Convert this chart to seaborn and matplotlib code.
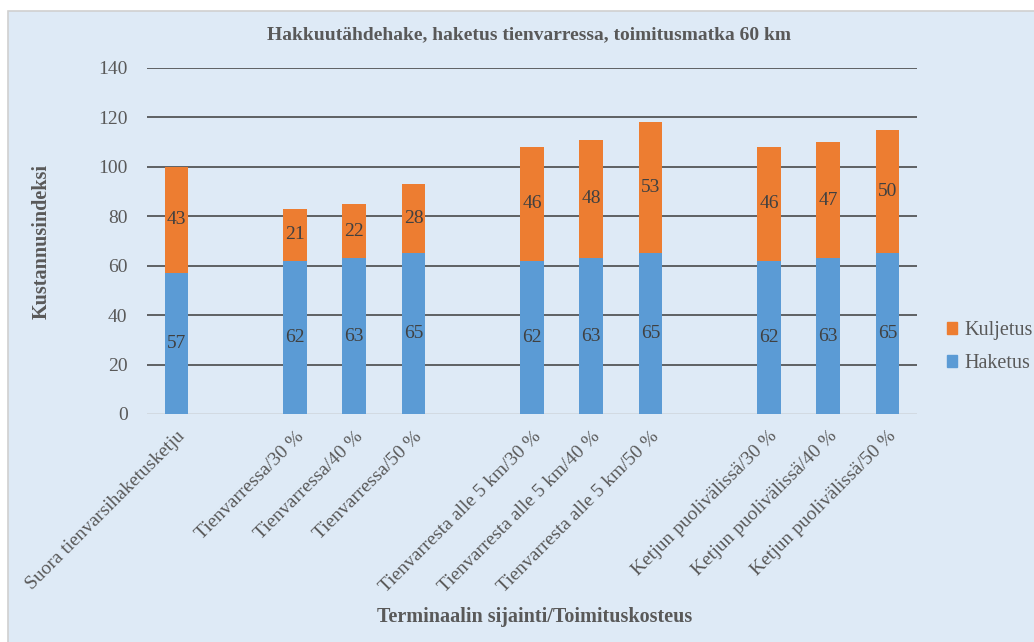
import matplotlib
matplotlib.use("Agg")
import matplotlib.pyplot as plt
from matplotlib.patches import Rectangle
import seaborn as sns
import pandas as pd

# Cost components per supply chain (index, direct roadside chipping = 100)
categories = [
    "Suora tienvarsihaketusketju",
    "Tienvarressa/30 %", "Tienvarressa/40 %", "Tienvarressa/50 %",
    "Tienvarresta alle 5 km/30 %", "Tienvarresta alle 5 km/40 %", "Tienvarresta alle 5 km/50 %",
    "Ketjun puolivälissä/30 %", "Ketjun puolivälissä/40 %", "Ketjun puolivälissä/50 %",
]
haketus = [57, 62, 63, 65, 62, 63, 65, 62, 63, 65]
kuljetus = [43, 21, 22, 28, 46, 48, 53, 46, 47, 50]
yticks = [0, 20, 40, 60, 80, 100, 120, 140]

# Empty slots separate the chain groups on the category axis
order = [categories[0], " ",
         categories[1], categories[2], categories[3], "  ",
         categories[4], categories[5], categories[6], "   ",
         categories[7], categories[8], categories[9]]

df = pd.DataFrame({"kategoria": categories, "Haketus": haketus, "Kuljetus": kuljetus})
df["Yhteensä"] = df["Haketus"] + df["Kuljetus"]

sns.set_theme(style="white")
plt.rcParams["font.family"] = ["Liberation Serif", "DejaVu Serif"]

BG = "#DEEAF6"
ORANGE = "#ED7D31"
BLUE = "#5B9BD5"
TXT = "#595959"
FS = 14

fig = plt.figure(figsize=(10.34, 6.42), dpi=100, facecolor="white")
# chart frame behind everything
frame = fig.add_axes([0, 0, 1, 1], zorder=-10)
frame.set_xlim(0, 1034)
frame.set_ylim(642, 0)
frame.axis("off")
frame.add_patch(Rectangle((8, 11), 1100, 700, facecolor=BG,
                          edgecolor="#D0D0D0", linewidth=1.2))

ax = fig.add_axes([147 / 1034, 1 - 414 / 642, (917 - 147) / 1034, (414 - 68) / 642])
ax.patch.set_alpha(0)

sns.barplot(data=df, x="kategoria", y="Yhteensä", order=order, color=ORANGE,
            width=0.4, saturation=1, linewidth=0, ax=ax, zorder=3)
sns.barplot(data=df, x="kategoria", y="Haketus", order=order, color=BLUE,
            width=0.4, saturation=1, linewidth=0, ax=ax, zorder=4)

ax.set_ylim(0, 140)
ax.set_yticks(yticks)
ax.set_xlim(-0.5, len(order) - 0.5)
for y in yticks[1:]:
    ax.axhline(y, color="#3C3C3C", lw=1.1, zorder=1)
ax.axhline(0, color="#D0D7DE", lw=1.2, zorder=2)
for s in ax.spines.values():
    s.set_visible(False)

ax.tick_params(axis="y", length=0, pad=14, labelsize=FS, labelcolor=TXT)
ax.tick_params(axis="x", length=0, pad=10, labelsize=FS, labelcolor=TXT)
ax.set_xticks(range(len(order)))
ax.set_xticklabels([c.strip() for c in order], rotation=45, ha="right",
                   rotation_mode="anchor")
ax.set_xlabel("")
ax.set_ylabel("")

# value labels in the middle of each segment
for cat, h, k in zip(categories, haketus, kuljetus):
    xi = order.index(cat)
    ax.text(xi, h / 2, f"{h}", ha="center", va="center", fontsize=FS,
            color="#404040", zorder=5)
    ax.text(xi, h + k / 2, f"{k}", ha="center", va="center", fontsize=FS,
            color="#404040", zorder=5)

fig.text(529 / 1034, 1 - 35 / 642, "Hakkuutähdehake, haketus tienvarressa, toimitusmatka 60 km",
         ha="center", va="center", fontsize=14, fontweight="bold", color=TXT)
fig.text(42 / 1034, 1 - 242 / 642, "Kustannusindeksi", rotation=90,
         ha="center", va="center", fontsize=14.5, fontweight="bold", color=TXT)
fig.text(535 / 1034, 1 - 617 / 642, "Terminaalin sijainti/Toimituskosteus",
         ha="center", va="center", fontsize=14.5, fontweight="bold", color=TXT)

handles = [Rectangle((0, 0), 1, 1, color=ORANGE), Rectangle((0, 0), 1, 1, color=BLUE)]
fig.legend(handles, ["Kuljetus", "Haketus"], loc="center left",
           bbox_to_anchor=(943 / 1034, 1 - 347 / 642), frameon=False,
           fontsize=14.5, labelcolor=TXT, handlelength=0.5, handleheight=0.5,
           handletextpad=0.35, labelspacing=0.7, borderaxespad=0, borderpad=0.2)

fig.savefig("out.png", dpi=100, facecolor=fig.get_facecolor())
